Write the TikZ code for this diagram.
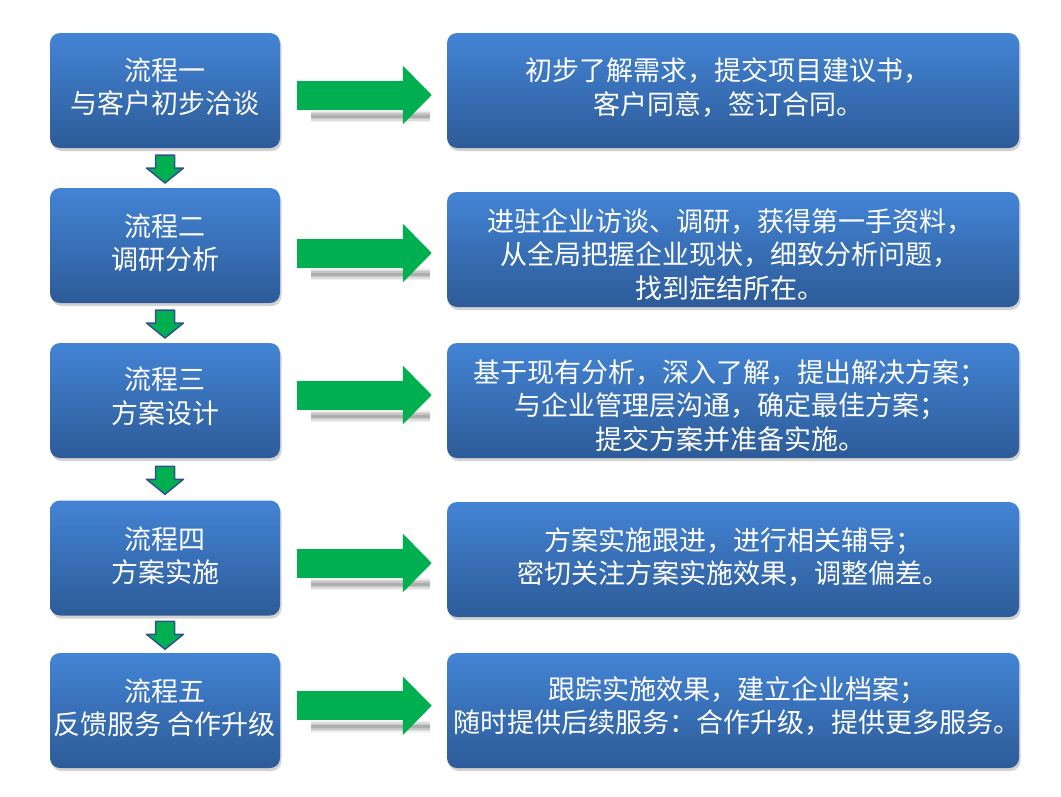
\documentclass[tikz,border=0pt]{standalone}
\usepackage{fontspec}
\setmainfont{Noto Sans CJK SC}
\usetikzlibrary{shadows,calc,arrows.meta}
\definecolor{boxtop}{HTML}{4384D5}
\definecolor{boxbot}{HTML}{2D5B98}
\definecolor{agreen}{HTML}{00B050}
\definecolor{aoutline}{HTML}{2F528F}
\tikzset{
 stepbox/.style={rounded corners=10pt, top color=boxtop, bottom color=boxbot, draw=none, inner sep=0pt, drop shadow={opacity=0.35, shadow xshift=1.5pt, shadow yshift=-3pt}},
 leftbox/.style={stepbox, minimum width=230pt, minimum height=115pt},
 rightbox/.style={stepbox, minimum width=572pt, minimum height=115pt},
 boxtext/.style={text=white, align=center, font=\fontsize{27}{33.5}\selectfont, inner sep=0pt},
 bigarrow/.style={agreen, line width=29pt, -{Triangle[length=29pt,width=57pt]}},
 arrowshadow/.style={black, opacity=#1},
 downarrow/.style={fill=agreen, draw=aoutline, line width=1.5pt, line join=round},
}
\begin{document}
\begin{tikzpicture}[x=1pt,y=-1pt]
\fill[white] (0,0) rectangle (1061,796);
\useasboundingbox (0,0) rectangle (1061,796);
\node[leftbox] (L1) at (165,90.5) {};
\node[leftbox] (L2) at (165,245.5) {};
\node[leftbox] (L3) at (165,400.5) {};
\node[leftbox] (L4) at (165,558) {};
\node[leftbox] (L5) at (165,710.5) {};
\node[rightbox] (R1) at (733,90.5) {};
\node[rightbox] (R2) at (733,249.5) {};
\node[rightbox] (R3) at (733,400.5) {};
\node[rightbox] (R4) at (733,559.5) {};
\node[rightbox] (R5) at (733,710.5) {};
\node[boxtext] (TL1) at ($(L1)+(0,-3.5)$) {流程一\\与客户初步洽谈};
\node[boxtext] (TL2) at ($(L2)+(0,-2.5)$) {流程二\\调研分析};
\node[boxtext] (TL3) at ($(L3)+(0,-4)$) {流程三\\方案设计};
\node[boxtext] (TL4) at ($(L4)+(0,-2)$) {流程四\\方案实施};
\node[boxtext] (TL5) at ($(L5)+(0,-2.5)$) {流程五\\反馈服务 合作升级};
\node[boxtext] (TR1) at ($(R1)+(-5,-3)$) {初步了解需求，提交项目建议书，\\客户同意，签订合同。};
\node[boxtext] (TR2) at ($(R2)+(-3,5)$) {进驻企业访谈、调研，获得第一手资料，\\从全局把握企业现状，细致分析问题，\\找到症结所在。};
\node[boxtext] (TR3) at ($(R3)+(-3,5)$) {基于现有分析，深入了解，提出解决方案；\\与企业管理层沟通，确定最佳方案；\\提交方案并准备实施。};
\node[boxtext] (TR4) at ($(R4)+(0,-2.5)$) {方案实施跟进，进行相关辅导；\\密切关注方案实施效果，调整偏差。};
\node[boxtext] (TR5) at ($(R5)+(4,-4.5)$) {跟踪实施效果，建立企业档案；\\随时提供后续服务：合作升级，提供更多服务。};
\foreach \i/\d in {1/4.5,2/7.5,3/-5.5,4/5,5/-4.8}{
  \coordinate (s\i) at ($(L\i.east)+(17,\d)$);
  \coordinate (e\i) at ($(L\i.east -| R\i.west)+(-15,\d)$);
  \foreach \w/\o in {12/0.06,9/0.08,6/0.1,3/0.12}{
    \draw[arrowshadow=\o, line width=\w pt] ($(s\i)+(14,21)$) -- ($(e\i)+(-2,21)$);
  }
  \draw[bigarrow] (s\i) -- (e\i);
}
\foreach \i/\j in {1/2,2/3,3/4,4/5}{
  \coordinate (m\i) at ($(L\i.south)!0.5!(L\j.north)$);
  \draw[downarrow] ($(m\i)+(-9.5,-13)$) -- ($(m\i)+(9.5,-13)$) -- ($(m\i)+(9.5,0)$) -- ($(m\i)+(18.5,0)$) -- ($(m\i)+(0,15)$) -- ($(m\i)+(-18.5,0)$) -- ($(m\i)+(-9.5,0)$) -- cycle;
}
\end{tikzpicture}
\end{document}
